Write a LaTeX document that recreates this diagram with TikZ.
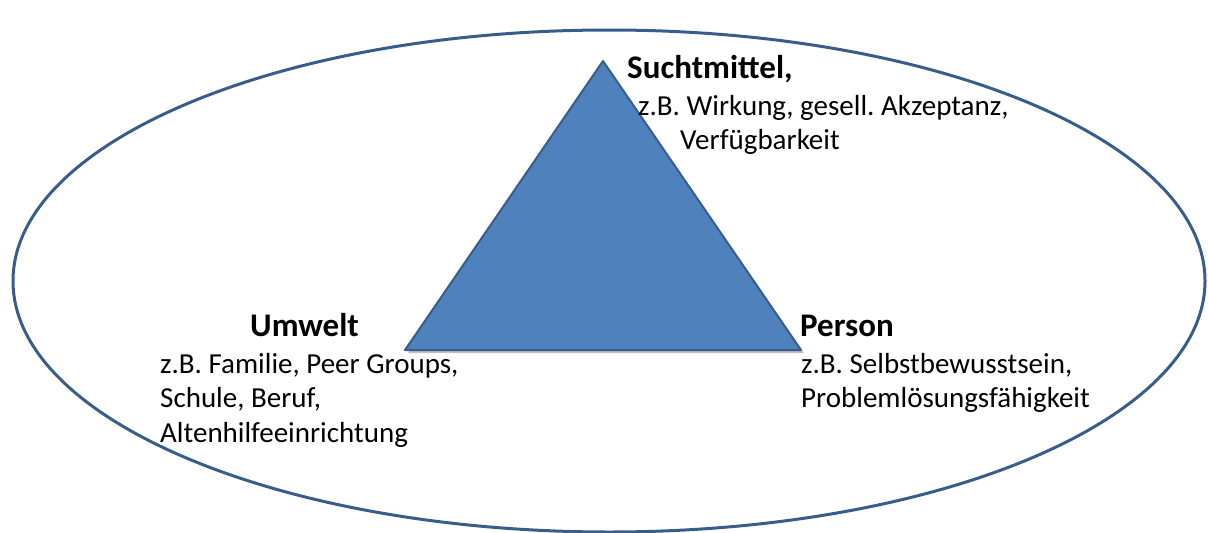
\documentclass[tikz,border=0pt]{standalone}
\usepackage{fontspec}
\setmainfont{Carlito}
\definecolor{triblue}{HTML}{4F81BD}
\definecolor{rimblue}{HTML}{385D8A}
\frenchspacing

\begin{document}
\begin{tikzpicture}[x=1pt,y=-1pt,
  head/.style={anchor=base west,inner sep=0pt,font=\fontsize{33}{40}\selectfont\bfseries},
  txt/.style={anchor=base west,inner sep=0pt,font=\fontsize{29}{35}\selectfont}]
\useasboundingbox (0,0) rectangle (1208,533);
\draw[rimblue,line width=3pt] (609,281) ellipse [x radius=596pt, y radius=251pt];
\fill[black,opacity=0.25] (605,64) -- (804,353) -- (408,353) -- cycle;
\draw[rimblue,line width=2pt,fill=triblue,line join=round] (603,61) -- (801,350) -- (405,350) -- cycle;
% Suchtmittel
\node[head] (sucht) at (627,78) {Suchtmittel,};
\node[txt] (sucht1) at (638,115) {z.B. Wirkung, gesell. Akzeptanz,};
\node[txt] (sucht2) at (680,149) {Verfügbarkeit};
% Umwelt
\node[head] (umwelt) at (250,336) {Umwelt};
\node[txt] (umwelt1) at (160,373) {z.B. Familie, Peer Groups,};
\node[txt] (umwelt2) at (160,407) {Schule, Beruf,};
\node[txt] (umwelt3) at (160,442) {Altenhilfeeinrichtung};
% Person
\node[head] (person) at (800,336) {Person};
\node[txt] (person1) at (801,373) {z.B. Selbstbewusstsein,};
\node[txt] (person2) at (801,407) {Problemlösungsfähigkeit};
\end{tikzpicture}
\end{document}
